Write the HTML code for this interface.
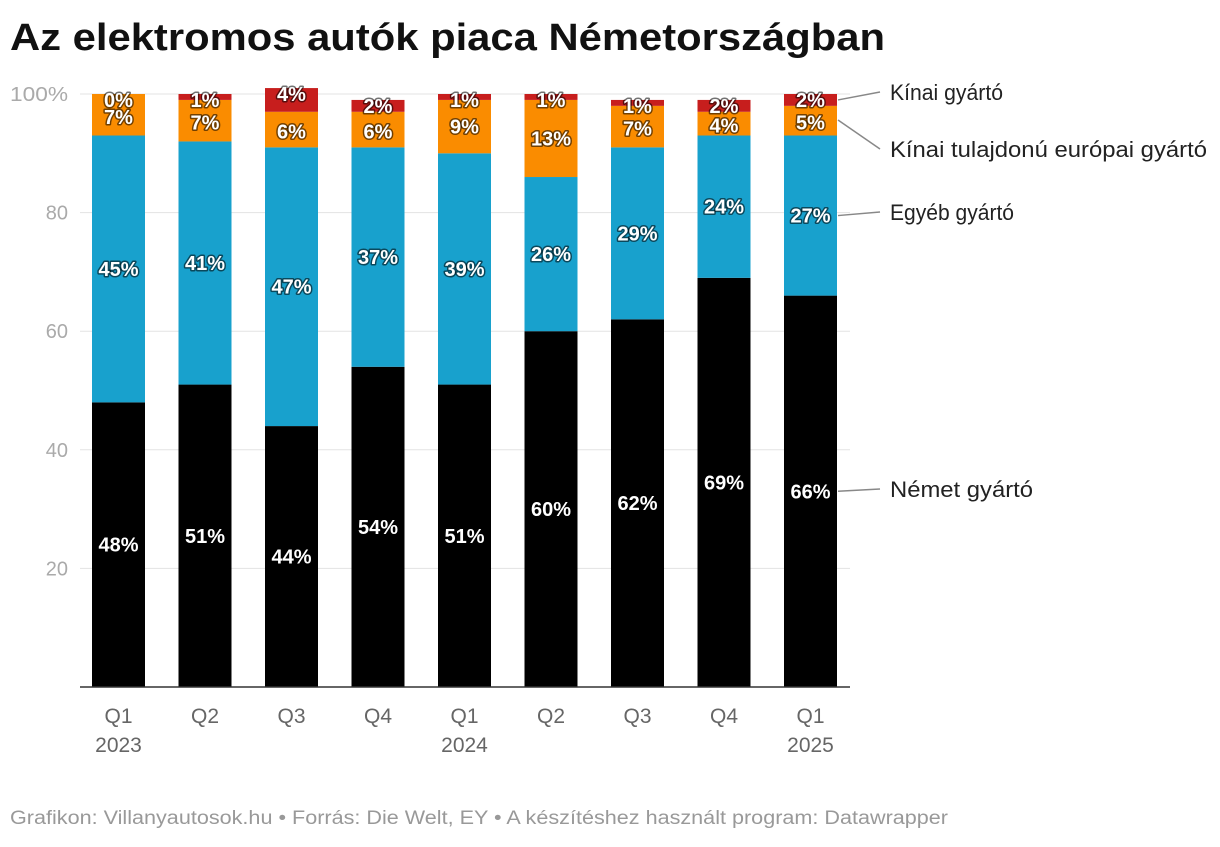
<!DOCTYPE html>
<html><head><meta charset="utf-8"><style>
body{margin:0;background:#fff;width:1220px;height:842px;overflow:hidden;font-family:"Liberation Sans",sans-serif}
</style></head><body>
<svg width="1220" height="842" font-family="Liberation Sans, sans-serif">
<text x="10" y="50" font-size="38" font-weight="bold" fill="#111" textLength="875" lengthAdjust="spacingAndGlyphs">Az elektromos autók piaca Németországban</text>
<g id="grid"></g><g id="bars"></g><g id="labels"></g><g id="legend"></g>
<text x="10" y="824" font-size="19" fill="#999" textLength="938" lengthAdjust="spacingAndGlyphs">Grafikon: Villanyautosok.hu • Forrás: Die Welt, EY • A készítéshez használt program: Datawrapper</text>
</svg>
<script>
const quarters=["Q1","Q2","Q3","Q4","Q1","Q2","Q3","Q4","Q1"];
const years=["2023","","","","2024","","","","2025"];
const german=[48,51,44,54,51,60,62,69,66];
const other=[45,41,47,37,39,26,29,24,27];
const chinaEu=[7,7,6,6,9,13,7,4,5];
const chinese=[0,1,4,2,1,1,1,2,2];
const ticks=[20,40,60,80,100];
const seriesNames=["Német gyártó","Egyéb gyártó","Kínai tulajdonú európai gyártó","Kínai gyártó"];
const legendLens=[143,124,317,113];
const colors=["#000000","#18a1cd","#fa8c00","#c71e1d"];
const NS="http://www.w3.org/2000/svg";
const y=v=>687-v*5.93;
const x=i=>92+i*86.5;
const bw=53;
function mk(t,a,p){const e=document.createElementNS(NS,t);for(const k in a)e.setAttribute(k,a[k]);p.appendChild(e);return e;}
const grid=document.getElementById('grid');
ticks.forEach(t=>{
 const l=mk('line',{x1:80,x2:850,y1:y(t),y2:y(t),stroke:'#e3e3e3','stroke-width':1},grid);
 
 
 const tx=mk('text',{x:68,y:y(t)+7,'font-size':20,fill:'#aaa','text-anchor':'end'},grid);
 tx.textContent=t===100?'100%':t;
 if(t===100){tx.setAttribute('textLength',58);tx.setAttribute('lengthAdjust','spacingAndGlyphs');}
 
 
});
const bars=document.getElementById('bars'),labels=document.getElementById('labels');
const series=[german,other,chinaEu,chinese];
quarters.forEach((q,i)=>{
 let base=0;
 series.forEach((s,k)=>{
  const v=s[i];
  const r=mk('rect',{x:x(i),y:y(base+v),width:bw,height:y(base)-y(base+v),fill:colors[k]},bars);
  
  
  let cy=(y(base)+y(base+v))/2+7;
  if(k===3) cy=y(base+v)+13;
  if(k===2 && v<8) cy=(y(base)+y(base+v))/2+9;
  const t=mk('text',{x:x(i)+bw/2,y:cy,'font-size':20,'font-weight':'bold',fill:'#fff','text-anchor':'middle',stroke:'rgba(0,0,0,0.55)','stroke-width':3,'paint-order':'stroke','stroke-linejoin':'round'},labels);
  t.textContent=v+'%';
  
  
  base+=v;
 });
 const a=mk('text',{x:x(i)+bw/2,y:723,'font-size':21,fill:'#666','text-anchor':'middle'},labels);
 a.textContent=q;
 
 
 if(years[i]){const b=mk('text',{x:x(i)+bw/2,y:752,'font-size':21,fill:'#666','text-anchor':'middle'},labels);
 b.textContent=years[i];
 
 }
});
mk('line',{x1:80,x2:850,y1:687,y2:687,stroke:'#333','stroke-width':1.5},labels);
const leg=document.getElementById('legend');
const last=quarters.length-1;
const mids=[y(german[last]/2),y(german[last]+other[last]/2),120,y(100-chinese[last]/2)];
const ly=[492,215,152,95];
for(let k=0;k<4;k++){
 const l=mk('line',{x1:838,y1:mids[k],x2:880,y2:ly[k]-3,stroke:'#888','stroke-width':1.5},leg);
 
 
 const t=mk('text',{x:890,y:ly[k]+5,'font-size':22,fill:'#222',textLength:legendLens[k],lengthAdjust:'spacingAndGlyphs'},leg);
 t.textContent=seriesNames[k];
 
 
}
</script>
</body></html>
